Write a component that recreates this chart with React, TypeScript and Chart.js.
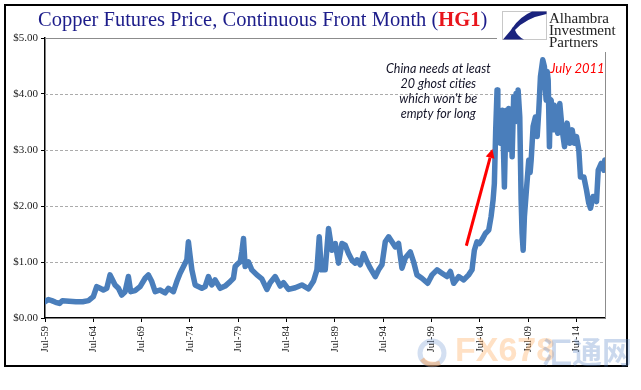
import React, { useEffect, useRef } from "react";
import { Chart, registerables } from "chart.js";

Chart.register(...registerables);

// ---- data (decimal year, USD per lb) ----
const years = [
  1959.5, 1959.85, 1960.2, 1960.6, 1961.0, 1961.3, 1962.0, 1962.7, 1963.4, 1964.0,
  1964.5, 1964.85, 1965.2, 1965.54, 1965.89, 1966.23, 1966.4, 1966.75, 1967.1, 1967.44,
  1967.79, 1968.13, 1968.37, 1968.82, 1969.34, 1969.86, 1970.2, 1970.55, 1970.9, 1971.4,
  1971.93, 1972.27, 1972.79, 1973.14, 1973.48, 1973.83, 1974.18, 1974.34, 1974.52, 1974.7,
  1975.04, 1975.73, 1976.07, 1976.41, 1976.76, 1977.1, 1977.63, 1978.14, 1978.66, 1979.0,
  1979.18, 1979.52, 1979.7, 1979.87, 1980.04, 1980.21, 1980.56, 1980.9, 1981.43, 1981.94,
  1982.46, 1982.8, 1983.32, 1983.84, 1984.18, 1984.7, 1985.39, 1986.08, 1986.77, 1987.29,
  1987.64, 1987.88, 1988.09, 1988.5, 1988.84, 1989.19, 1989.54, 1989.88, 1990.23, 1990.57,
  1990.91, 1991.27, 1991.6, 1991.78, 1992.12, 1992.47, 1992.81, 1993.16, 1993.68, 1994.02,
  1994.37, 1994.71, 1995.06, 1995.4, 1995.75, 1996.09, 1996.44, 1996.78, 1997.3, 1997.65,
  1997.99, 1998.5, 1999.1, 1999.55, 2000.07, 2000.58, 2001.1, 2001.45, 2001.79, 2002.31,
  2002.83, 2003.34, 2003.69, 2003.93, 2004.2, 2004.45, 2004.73, 2005.07, 2005.42, 2005.66,
  2005.87, 2006.0, 2006.14, 2006.28, 2006.36, 2006.45, 2006.55, 2006.63, 2006.73, 2006.83,
  2006.93, 2007.04, 2007.15, 2007.25, 2007.37, 2007.49, 2007.58, 2007.66, 2007.75, 2007.84,
  2008.0, 2008.12, 2008.25, 2008.36, 2008.46, 2008.63, 2008.77, 2008.87, 2008.98, 2009.11,
  2009.32, 2009.56, 2009.7, 2009.81, 2010.01, 2010.25, 2010.43, 2010.6, 2010.77, 2011.01,
  2011.18, 2011.27, 2011.36, 2011.47, 2011.57, 2011.7, 2011.8, 2011.88, 2012.08, 2012.2,
  2012.32, 2012.45, 2012.56, 2012.77, 2013.02, 2013.26, 2013.53, 2013.81, 2014.05, 2014.29,
  2014.5, 2014.74, 2014.91, 2015.26, 2015.53, 2015.77, 2015.95, 2016.22, 2016.57, 2016.75,
  2017.06, 2017.33, 2017.43,
];
const prices = [
  0.29, 0.33, 0.31, 0.28, 0.26, 0.31, 0.30, 0.29, 0.29, 0.31,
  0.38, 0.56, 0.53, 0.50, 0.53, 0.77, 0.71, 0.59, 0.53, 0.41,
  0.47, 0.74, 0.47, 0.49, 0.56, 0.71, 0.77, 0.65, 0.47, 0.50,
  0.45, 0.53, 0.47, 0.65, 0.80, 0.92, 1.04, 1.36, 1.10, 0.86,
  0.59, 0.53, 0.56, 0.74, 0.59, 0.68, 0.53, 0.57, 0.65, 0.71,
  0.92, 0.98, 1.00, 1.18, 1.42, 0.92, 1.00, 0.86, 0.77, 0.70,
  0.51, 0.63, 0.74, 0.57, 0.63, 0.51, 0.54, 0.59, 0.52, 0.66,
  0.86, 1.45, 0.86, 0.86, 1.60, 1.21, 1.33, 0.98, 1.33, 1.30,
  1.15, 1.03, 0.98, 1.04, 0.95, 1.15, 1.01, 0.89, 0.74, 0.86,
  0.95, 1.36, 1.45, 1.36, 1.27, 1.33, 0.89, 1.07, 1.18, 1.00,
  0.77, 0.71, 0.62, 0.77, 0.86, 0.80, 0.74, 0.83, 0.62, 0.74,
  0.68, 0.77, 0.86, 1.21, 1.36, 1.33, 1.40, 1.51, 1.57, 1.81,
  2.11, 2.40, 3.36, 4.07, 3.30, 3.71, 3.20, 3.12, 3.60, 3.71,
  3.10, 2.34, 3.20, 3.71, 3.30, 3.74, 3.40, 3.00, 3.60, 2.88,
  3.95, 3.50, 4.01, 3.70, 4.07, 3.59, 2.11, 1.51, 1.21, 1.81,
  2.29, 2.82, 2.60, 2.82, 3.42, 3.59, 3.24, 3.71, 4.31, 4.61,
  4.49, 4.10, 3.89, 4.40, 4.25, 3.06, 3.90, 3.89, 3.36, 3.80,
  3.71, 3.40, 3.30, 3.83, 3.36, 3.06, 3.48, 3.12, 3.36, 3.12,
  3.24, 3.00, 2.52, 2.52, 2.29, 2.05, 1.96, 2.17, 2.08, 2.64,
  2.76, 2.64, 2.82,
];

const tickYears = [1959.5, 1964.5, 1969.5, 1974.5, 1979.5, 1984.5, 1989.5, 1994.5, 1999.5, 2004.5, 2009.5, 2014.5];
const tickLabels = ["Jul-59", "Jul-64", "Jul-69", "Jul-74", "Jul-79", "Jul-84", "Jul-89", "Jul-94", "Jul-99", "Jul-04", "Jul-09", "Jul-14"];
const yTickValues = [0, 1, 2, 3, 4, 5];
const xMin = 1959.5;
const xMax = 2017.45;

const titleMain = "Copper Futures Price, Continuous Front Month (";
const titleCode = "HG1";
const titleEnd = ")";
const logoLines = ["Alhambra", "Investment", "Partners"];
const noteLines = ["China needs at least", "20 ghost cities", "which won't be", "empty for long"];
const noteAt = [2000.2, 4.45];
const peakLabel = "July 2011";
const peakLabelAt = [2014.6, 4.45];
const arrowFrom = [2003.1, 1.29];
const arrowTo = [2005.8, 3.02];

const LINE_BLUE = "#4a7ebb";

const annotationPlugin = {
  id: "annot",
  beforeDatasetsDraw(chart: any) {
    const { ctx, chartArea, scales } = chart;
    const y = scales.y;
    ctx.save();
    ctx.strokeStyle = "#ababab";
    ctx.lineWidth = 1;
    ctx.setLineDash([3, 2]);
    for (const v of yTickValues) {
      if (v <= 0 || v >= 5) continue;
      const py = Math.round(y.getPixelForValue(v)) + 0.5;
      ctx.beginPath();
      ctx.moveTo(chartArea.left, py);
      ctx.lineTo(chartArea.right, py);
      ctx.stroke();
    }
    ctx.setLineDash([]);
    ctx.strokeStyle = "#8c8c8c";
    const top = Math.round(y.getPixelForValue(5)) + 0.5;
    ctx.beginPath();
    ctx.moveTo(chartArea.left, top);
    ctx.lineTo(497, top);
    ctx.stroke();
    ctx.beginPath();
    ctx.moveTo(Math.round(chartArea.right) + 0.5, 52);
    ctx.lineTo(Math.round(chartArea.right) + 0.5, chartArea.bottom);
    ctx.stroke();
    ctx.restore();
  },
  afterDatasetsDraw(chart: any) {
    const { ctx, scales } = chart;
    const x = scales.x;
    const y = scales.y;
    ctx.save();
    const x1 = x.getPixelForValue(arrowFrom[0]);
    const y1 = y.getPixelForValue(arrowFrom[1]);
    const x2 = x.getPixelForValue(arrowTo[0]);
    const y2 = y.getPixelForValue(arrowTo[1]);
    const ang = Math.atan2(y2 - y1, x2 - x1);
    const head = 9;
    const bx = x2 - head * Math.cos(ang);
    const by = y2 - head * Math.sin(ang);
    ctx.strokeStyle = "#ff0000";
    ctx.fillStyle = "#ff0000";
    ctx.lineWidth = 3;
    ctx.beginPath();
    ctx.moveTo(x1, y1);
    ctx.lineTo(bx, by);
    ctx.stroke();
    ctx.beginPath();
    ctx.moveTo(x2, y2);
    ctx.lineTo(bx + 4.5 * Math.sin(ang), by - 4.5 * Math.cos(ang));
    ctx.lineTo(bx - 4.5 * Math.sin(ang), by + 4.5 * Math.cos(ang));
    ctx.closePath();
    ctx.fill();
    ctx.font = "italic 12.5px Lato, 'Liberation Sans', sans-serif";
    ctx.textAlign = "center";
    ctx.textBaseline = "middle";
    ctx.fillStyle = "#141428";
    const nx = x.getPixelForValue(noteAt[0]);
    const ny = y.getPixelForValue(noteAt[1]);
    noteLines.forEach((t, i) => ctx.fillText(t, nx, ny + i * 15));
    ctx.fillStyle = "#ff0000";
    ctx.font = "italic 13px Lato, 'Liberation Sans', sans-serif";
    ctx.fillText(peakLabel, x.getPixelForValue(peakLabelAt[0]), y.getPixelForValue(peakLabelAt[1]));
    ctx.restore();
  },
};

export default function App() {
  const ref = useRef<HTMLCanvasElement | null>(null);

  useEffect(() => {
    if (!ref.current) return;
    const chart = new Chart(ref.current, {
      type: "line",
      data: {
        datasets: [
          {
            data: years.map((yr, i) => ({ x: yr, y: prices[i] })),
            borderColor: LINE_BLUE,
            borderWidth: 5.5,
            pointRadius: 0,
            tension: 0,
            borderJoinStyle: "round",
            borderCapStyle: "round",
          },
        ],
      },
      plugins: [annotationPlugin],
      options: {
        animation: false,
        responsive: false,
        devicePixelRatio: 1,
        layout: { padding: { left: 0, right: 36, top: 38, bottom: 0 } },
        plugins: { legend: { display: false }, tooltip: { enabled: false }, title: { display: false } },
        scales: {
          x: {
            type: "linear",
            min: xMin,
            max: xMax,
            afterBuildTicks: (s: any) => {
              s.ticks = tickYears.map((v) => ({ value: v }));
            },
            afterFit: (s: any) => {
              s.height = 72;
            },
            ticks: {
              autoSkip: false,
              maxRotation: 90,
              minRotation: 90,
              padding: 4,
              color: "#222",
              font: { family: "'Liberation Serif', 'Times New Roman', serif", size: 10.5 },
              callback: (v: any) => {
                const idx = tickYears.indexOf(Number(v));
                return idx >= 0 ? tickLabels[idx] : "";
              },
            },
            grid: { drawOnChartArea: false, drawTicks: true, tickLength: 4, tickColor: "#000", tickBorderDash: [] },
            border: { display: true, color: "#000", width: 1.5 },
          },
          y: {
            type: "linear",
            min: 0,
            max: 5,
            afterBuildTicks: (s: any) => {
              s.ticks = yTickValues.map((v) => ({ value: v }));
            },
            afterFit: (s: any) => {
              s.width = 45;
            },
            ticks: {
              padding: 3,
              color: "#222",
              font: { family: "'Liberation Serif', 'Times New Roman', serif", size: 11 },
              callback: (v: any) => "$" + Number(v).toFixed(2),
            },
            grid: { drawOnChartArea: false, drawTicks: true, tickLength: 4, tickColor: "#000", tickBorderDash: [] },
            border: { display: true, color: "#000", width: 1.5 },
          },
        },
      },
    } as any);
    return () => chart.destroy();
  }, []);

  return (
    <div style={{ position: "absolute", left: 0, top: 0, width: 641, height: 390, background: "#fff", overflow: "hidden" }}>
      <canvas ref={ref} width={641} height={390} style={{ position: "absolute", left: 0, top: 0, width: 641, height: 390 }} />
      <div
        style={{
          position: "absolute",
          left: 4,
          top: 4,
          width: 620,
          height: 359,
          border: "2px solid #000",
          pointerEvents: "none",
        }}
      />
      <div
        style={{
          position: "absolute",
          left: 38,
          top: 6,
          whiteSpace: "nowrap",
          fontFamily: "'Liberation Serif', 'Times New Roman', serif",
          fontSize: 20.5,
          lineHeight: "26px",
          color: "#1c1c8a",
        }}
      >
        {titleMain}
        <span style={{ color: "#e8141b", fontWeight: "bold" }}>{titleCode}</span>
        {titleEnd}
      </div>
      <svg width={45} height={29} style={{ position: "absolute", left: 502, top: 11 }} viewBox="0 0 45 29">
        <rect x={0.5} y={0.5} width={44} height={28} fill="#fff" stroke="#c8c8c8" />
        <path d="M30,0.5 L44.5,0.5 L44.5,3 Q24,7 13,19 L9,19 Q17,6 30,0.5 Z" fill="#1a237e" />
        <path d="M1,28.5 L9,19 L13,19 Q15,25 22,28.5 Z" fill="#1a237e" />
      </svg>
      <div
        style={{
          position: "absolute",
          left: 549,
          top: 12,
          fontFamily: "'Liberation Serif', 'Times New Roman', serif",
          fontSize: 15,
          lineHeight: "12px",
          color: "#222",
        }}
      >
        {logoLines.map((t) => (
          <div key={t}>{t}</div>
        ))}
      </div>
      <div style={{ position: "absolute", left: 416, top: 337, pointerEvents: "none" }}>
        <svg width={32} height={32} viewBox="0 0 32 32">
          <circle cx={16} cy={16} r={12} fill="none" stroke="rgba(110,150,210,0.3)" strokeWidth={5} />
          <path d="M6,22 Q12,30 24,26" fill="none" stroke="rgba(255,150,60,0.4)" strokeWidth={5} />
        </svg>
      </div>
      <div
        style={{
          position: "absolute",
          left: 455,
          top: 330,
          fontFamily: "'Liberation Sans', Arial, sans-serif",
          fontSize: 34,
          fontWeight: "bold",
          color: "rgba(255,165,80,0.33)",
          whiteSpace: "nowrap",
          pointerEvents: "none",
        }}
      >
        FX678
      </div>
      <div
        style={{
          position: "absolute",
          left: 542,
          top: 328,
          fontFamily: "'Noto Sans CJK SC', sans-serif",
          fontSize: 30,
          fontWeight: "bold",
          color: "rgba(90,135,200,0.32)",
          whiteSpace: "nowrap",
          pointerEvents: "none",
        }}
      >
        汇通网
      </div>
    </div>
  );
}
